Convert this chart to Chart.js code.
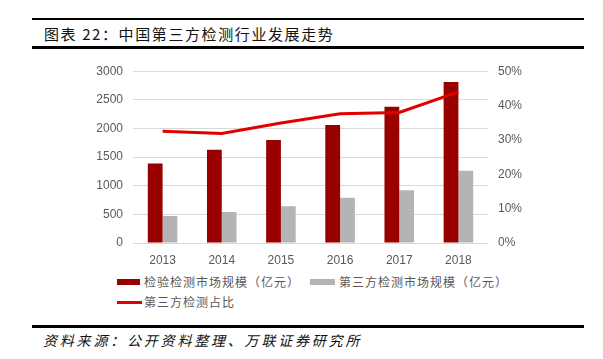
<!DOCTYPE html>
<html>
<head>
<meta charset="utf-8">
<script src="https://cdn.jsdelivr.net/npm/chart.js@4.4.0/dist/chart.umd.min.js"></script>
<style>
  body { margin: 0; width: 603px; height: 359px; background: #fff; position: relative; overflow: hidden;
         font-family: "Noto Sans CJK SC", "Noto Sans", sans-serif; }
  .rule { position: absolute; left: 32px; width: 552px; background: #000; }
  #title { position: absolute; left: 44px; top: 23px; font-size: 15px; color: #111; letter-spacing: 1.6px; }
  #source { position: absolute; left: 43px; top: 330px; font-size: 14px; font-style: italic; color: #111; letter-spacing: 2.8px; }
  #box { position: absolute; left: 0; top: 54px; width: 603px; height: 216px; }
  .leg { position: absolute; font-size: 12px; color: #595959; letter-spacing: 1px; line-height: 14px; }
  .sw { position: absolute; }
</style>
</head>
<body>
<div class="rule" style="top:18px;height:2px"></div>
<div id="title">图表 22：中国第三方检测行业发展走势</div>
<div class="rule" style="top:46px;height:3px"></div>

<div id="box"><canvas id="myChart"></canvas></div>

<div class="sw" style="left:117px;top:279px;width:23px;height:6px;background:#990000"></div>
<div class="leg" style="left:144px;top:275px">检验检测市场规模（亿元）</div>
<div class="sw" style="left:310px;top:279px;width:25px;height:6px;background:#b4b4b4"></div>
<div class="leg" style="left:339px;top:275px">第三方检测市场规模（亿元）</div>
<div class="sw" style="left:117px;top:301px;width:25px;height:3px;background:#e00000"></div>
<div class="leg" style="left:144px;top:295px">第三方检测占比</div>

<div class="rule" style="top:325px;height:3px"></div>
<div id="source">资料来源：公开资料整理、万联证券研究所</div>

<script>
const years = ['2013', '2014', '2015', '2016', '2017', '2018']
const totalMarket = [1390, 1630, 1800, 2060, 2380, 2810]
const thirdPartyMarket = [470, 540, 640, 790, 920, 1260]
const thirdPartyShare = [32.5, 31.9, 34.9, 37.6, 38.0, 44.0]

let ctx = document.getElementById('myChart').getContext('2d')
let chart = new Chart(ctx, {
  type: 'bar',
  data: {
    labels: years,
    datasets: [{
      type: 'line',
      label: '第三方检测占比',
      data: thirdPartyShare,
      yAxisID: 'y1',
      borderColor: '#e00000',
      borderWidth: 3,
      pointRadius: 0,
      tension: 0,
      order: 0
    }, {
      label: '检验检测市场规模（亿元）',
      data: totalMarket,
      backgroundColor: '#990000',
      yAxisID: 'y',
      order: 1
    }, {
      label: '第三方检测市场规模（亿元）',
      data: thirdPartyMarket,
      backgroundColor: '#b4b4b4',
      yAxisID: 'y',
      order: 1
    }]
  },
  options: {
    responsive: true,
    maintainAspectRatio: false,
    animation: false,
    layout: { padding: { top: 15, left: 0, right: 0, bottom: 0 } },
    datasets: { bar: { categoryPercentage: 0.5, barPercentage: 1.0 } },
    plugins: { legend: { display: false }, tooltip: { enabled: false } },
    scales: {
      x: {
        grid: { display: false },
        border: { display: false },
        ticks: { color: '#595959', font: { size: 12, family: 'Liberation Sans' }, padding: 2 },
        afterFit: (s) => { s.height = 27 }
      },
      y: {
        position: 'left',
        min: 0, max: 3000,
        ticks: { stepSize: 500, color: '#595959', font: { size: 12, family: 'Liberation Sans' }, padding: 10,
                 callback: (v) => String(v) },
        grid: { color: '#d9d9d9', drawTicks: false },
        border: { display: false },
        afterFit: (s) => { s.width = 133 }
      },
      y1: {
        position: 'right',
        min: 0, max: 50,
        ticks: { stepSize: 10, color: '#595959', font: { size: 12, family: 'Liberation Sans' }, padding: 10,
                 callback: (v) => v + '%' },
        grid: { display: false, drawTicks: false },
        border: { display: false },
        afterFit: (s) => { s.width = 115 }
      }
    }
  }
})
</script>
</body>
</html>
